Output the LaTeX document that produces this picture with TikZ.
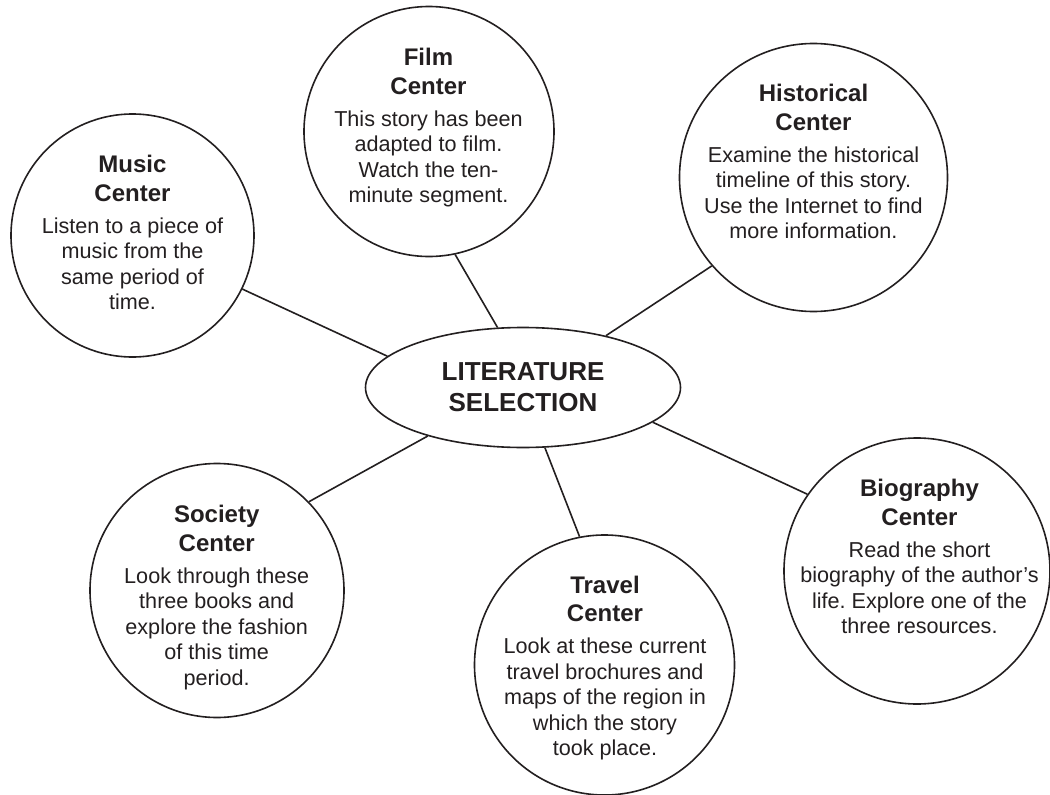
\documentclass[tikz,border=0pt]{standalone}
\usepackage{fontspec}
\setmainfont{Liberation Sans}
\usetikzlibrary{shapes.geometric}
\definecolor{ink}{RGB}{35,31,32}
\newcommand\tf{\fontsize{24}{25.5}\selectfont\bfseries}
\frenchspacing
\tikzset{
  bubble/.style={circle, draw=ink, line width=1.6pt, fill=white, inner sep=0pt},
  txt/.style={align=center, inner sep=0pt, anchor=north, text=ink,
              font=\fontsize{21.6}{25.5}\selectfont},
  link/.style={draw=ink, line width=1.6pt}
}
\begin{document}
\begin{tikzpicture}[x=1pt,y=-1pt]
\useasboundingbox[fill=white] (0,0) rectangle (1050,795);

% bubbles
\node[bubble, minimum size=243pt] (music) at (132.5,235.5) {};
\node[bubble, minimum size=250pt] (film) at (429,131.5) {};
\node[bubble, minimum size=268pt] (hist) at (813.5,177.5) {};
\node[bubble, minimum size=254pt] (soc) at (217,590.5) {};
\node[bubble, minimum size=260pt] (travel) at (604.5,665) {};
\node[bubble, minimum size=266pt] (bio) at (917,571) {};

\node[ellipse, draw=ink, line width=1.6pt, fill=white, minimum width=315pt, minimum height=120pt,
      align=center, text=ink, font=\fontsize{26}{31}\selectfont\bfseries] (lit) at (523,387.5)
      {LITERATURE\\SELECTION};

% connectors
\draw[link] (music.-26.4) -- (lit.167.7);
\draw[link] (film.-78) -- (lit.113.4);
\draw[link] (hist.221.4) -- (lit.32.2);
\draw[link] (soc.44) -- (lit.207);
\draw[link] (travel.101) -- (lit.-70.5);
\draw[link] (bio.145.7) -- (lit.-15);

% texts
\node[txt] (musictxt) at (132.5,152.7) {\rule{0pt}{20pt}{\tf Music}\\[2.8pt]{\tf Center}\\[6.5pt]
  Listen to a piece of\\ music from the\\ same period of\\ time.};
\node[txt] (filmtxt) at (428.5,45.7) {\rule{0pt}{20pt}{\tf Film}\\[2.8pt]{\tf Center}\\[6.5pt]
  This story has been\\ adapted to film.\\ Watch the ten-\\ minute segment.};
\node[txt] (histtxt) at (813.5,81.7) {\rule{0pt}{20pt}{\tf Historical}\\[2.8pt]{\tf Center}\\[6.5pt]
  Examine the historical\\ timeline of this story.\\ Use the Internet to find\\ more information.};
\node[txt] (soctxt) at (216.7,502.7) {\rule{0pt}{20pt}{\tf Society}\\[2.8pt]{\tf Center}\\[6.5pt]
  Look through these\\ three books and\\ explore the fashion\\ of this time\\ period.};
\node[txt] (traveltxt) at (605,573.3) {\rule{0pt}{20pt}{\tf Travel}\\[2.8pt]{\tf Center}\\[6.5pt]
  Look at these current\\ travel brochures and\\ maps of the region in\\ which the story\\ took place.};
\node[txt] (biotxt) at (919.5,476.7) {\rule{0pt}{20pt}{\tf Biography}\\[2.8pt]{\tf Center}\\[6.5pt]
  Read the short\\ biography of the author’s\\ life. Explore one of the\\ three resources.};
\end{tikzpicture}
\end{document}
